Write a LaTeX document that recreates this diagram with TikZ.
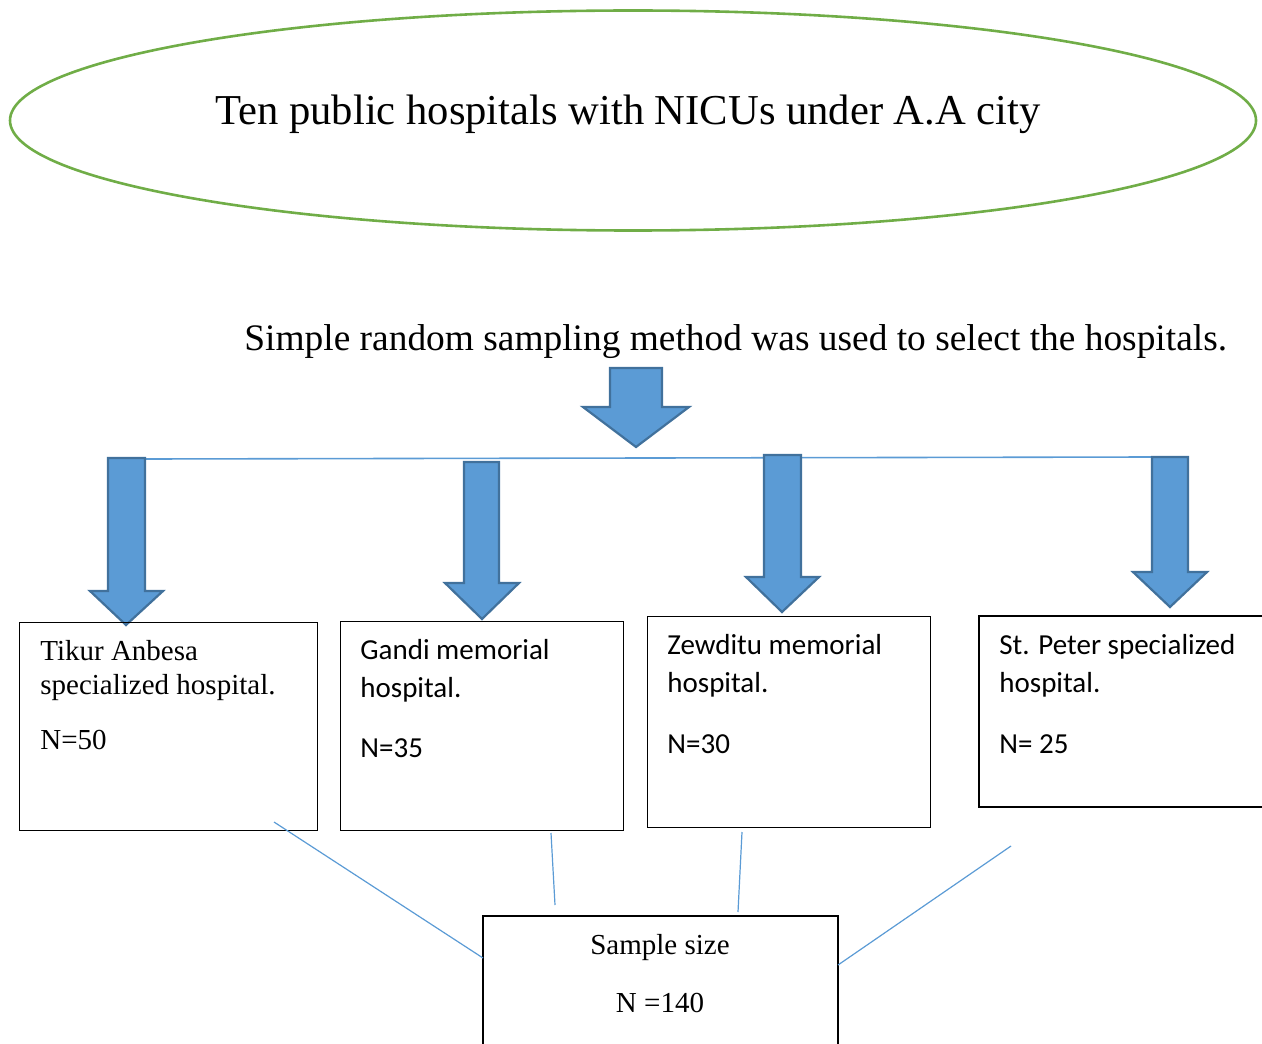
\documentclass[tikz,border=0pt]{standalone}
\usepackage{fontspec}
\setmainfont{Liberation Serif}
\newfontfamily\calfont{Carlito}
\usetikzlibrary{shapes.geometric}
\definecolor{arrfill}{HTML}{5B9BD5}
\definecolor{arredge}{HTML}{41719C}
\definecolor{ellgreen}{HTML}{70AD47}
\definecolor{connblue}{HTML}{5B9BD5}
\begin{document}
\begin{tikzpicture}[x=0.5pt,y=-0.5pt,
  blockarrow/.style={fill=arrfill, draw=arredge, line width=1.1pt, line join=miter},
  boxline/.style={draw=black, line width=0.6pt},
  hospbox/.style={boxline, anchor=north west, inner sep=0},
  connline/.style={draw=connblue, line width=0.6pt},
  serifline/.style={font=\fontsize{14.5}{17}\selectfont, anchor=base west, inner sep=0},
  calline/.style={font=\calfont\fontsize{14.5}{19}\selectfont, anchor=base west, inner sep=0},
  centerline/.style={font=\fontsize{14.5}{17}\selectfont, anchor=base, inner sep=0}]
\useasboundingbox (0,0) rectangle (1262,1043);

% top ellipse
\node[ellipse, draw=ellgreen, line width=1.3pt, minimum width=623pt, minimum height=110pt, inner sep=0] (top) at (633,120.5) {};
\node[font=\fontsize{21.3}{25}\selectfont, anchor=base west, inner sep=0] (title) at (215,125) {Ten public hospitals with NICUs under A.A city};

% method text
\node[font=\fontsize{18.7}{22}\selectfont, anchor=base west, inner sep=0] (method) at (244,350) {Simple random sampling method was used to select the hospitals.};

% top arrow
\path[blockarrow] (610,368) -- (662,368) -- (662,407) -- (689,407) -- (636,447) -- (583,407) -- (610,407) -- cycle;

% horizontal distribution line
\coordinate (hl) at (145,459);
\coordinate (hr) at (1152,457);
\draw[draw=connblue, line width=0.8pt] (hl) -- (hr);

% four down arrows
\path[blockarrow] (108,458) -- (145,458) -- (145,591) -- (163,591) -- (126,625) -- (90,591) -- (108,591) -- cycle;
\path[blockarrow] (464,462) -- (499,462) -- (499,583) -- (519,583) -- (482,619) -- (445,583) -- (464,583) -- cycle;
\path[blockarrow] (764,455) -- (801,455) -- (801,577) -- (819,577) -- (782,612) -- (746,577) -- (764,577) -- cycle;
\path[blockarrow] (1152,457) -- (1188,457) -- (1188,572) -- (1207,572) -- (1170,607) -- (1133,572) -- (1152,572) -- cycle;

% hospital boxes
\node[hospbox, minimum width=149pt, minimum height=104pt] (tikur) at (19,622) {};
\node[hospbox, minimum width=141.5pt, minimum height=104.5pt] (gandi) at (340,621) {};
\node[hospbox, minimum width=141.5pt, minimum height=105.5pt] (zewditu) at (647,616) {};
\coordinate (petertr) at (1262,616);
\coordinate (petertl) at (979,616);
\coordinate (peterbl) at (979,807);
\coordinate (peterbr) at (1262,807);
\draw[boxline] (petertr) -- (petertl) -- (peterbl) -- (peterbr);

% box texts
\node[serifline] (t1) at (40,660) {Tikur Anbesa};
\node[serifline] (t2) at (40,694) {specialized hospital.};
\node[serifline] (t3) at (40,749) {N=50};

\node[calline] (g1) at (360,659) {Gandi memorial};
\node[calline] (g2) at (360,697) {hospital.};
\node[calline] (g3) at (360,757) {N=35};

\node[calline] (z1) at (667,654) {Zewditu memorial};
\node[calline] (z2) at (667,692) {hospital.};
\node[calline] (z3) at (667,753) {N=30};

\node[calline] (p1) at (999,654) {St. Peter specialized};
\node[calline] (p2) at (999,692) {hospital.};
\node[calline] (p3) at (999,753) {N= 25};

% sample size box
\coordinate (sbl) at (483,1045);
\coordinate (stl) at (483,916);
\coordinate (str) at (838,916);
\coordinate (sbr) at (838,1045);
\draw[boxline] (sbl) -- (stl) -- (str) -- (sbr);
\node[centerline] (s1) at (660,954) {Sample size};
\node[centerline] (s2) at (660,1012) {N =140};

% connectors to sample box
\coordinate (c1a) at (274,822);
\coordinate (c1b) at (483,958);
\coordinate (c2a) at (551,833);
\coordinate (c2b) at (555,905);
\coordinate (c3a) at (742,832);
\coordinate (c3b) at (738,912);
\coordinate (c4a) at (1011,846);
\coordinate (c4b) at (838,965);
\draw[connline] (c1a) -- (c1b);
\draw[connline] (c2a) -- (c2b);
\draw[connline] (c3a) -- (c3b);
\draw[connline] (c4a) -- (c4b);
\end{tikzpicture}
\end{document}
